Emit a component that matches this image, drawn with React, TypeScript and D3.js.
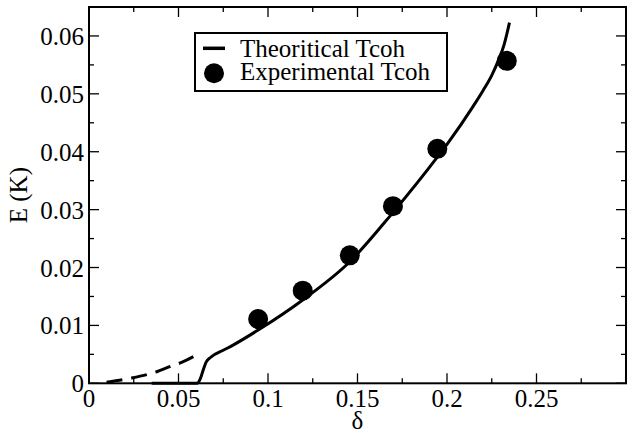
import React from "react";
import * as d3 from "d3";

const theoryX = [0.035, 0.0604, 0.0622, 0.0638, 0.0655, 0.068, 0.075, 0.0805, 0.0945, 0.1194, 0.1457, 0.1695, 0.1949, 0.2005, 0.2145, 0.22, 0.225, 0.229, 0.232, 0.2349];
const theoryY = [0, 0, 0.0008, 0.0023, 0.0037, 0.0045, 0.0057, 0.0066, 0.0092, 0.0144, 0.021, 0.0294, 0.0392, 0.0415, 0.0478, 0.0505, 0.0532, 0.056, 0.0586, 0.0623];
const dashedX = [0.0098, 0.0238, 0.0378, 0.0462, 0.0517, 0.0601];
const dashedY = [0.0002, 0.0009, 0.002, 0.003, 0.0036, 0.0049];
const expX = [0.0945, 0.1194, 0.1457, 0.1698, 0.1946, 0.2334];
const expY = [0.0111, 0.016, 0.0221, 0.0306, 0.0405, 0.0557];
const xTicks = [0, 0.05, 0.1, 0.15, 0.2, 0.25];
const xTickLabels = ["0", "0.05", "0.1", "0.15", "0.2", "0.25"];
const yTicks = [0, 0.01, 0.02, 0.03, 0.04, 0.05, 0.06];
const yTickLabels = ["0", "0.01", "0.02", "0.03", "0.04", "0.05", "0.06"];
const legendLabels = ["Theoritical Tcoh", "Experimental Tcoh"];
const xLabel = "δ";
const yLabel = "E (K)";

const W = 627, H = 432;
const L = 89, R = 626, T = 7, B = 383.3;
const FONT = "Liberation Serif";
const FS = 25;

export default function App() {
  const x = d3.scaleLinear().domain([0, 0.3]).range([L, R]);
  const y = d3.scaleLinear().domain([0, 0.065]).range([B, T]);
  const line = d3.line<[number, number]>().x(d => x(d[0])).y(d => y(d[1])).curve(d3.curveMonotoneX);
  const theory: [number, number][] = theoryX.map((v, i) => [v, theoryY[i]]);
  const dashed: [number, number][] = dashedX.map((v, i) => [v, dashedY[i]]);
  const xMinor = d3.range(0.025, 0.3, 0.05);
  const yMinor = d3.range(0.005, 0.065, 0.01);

  return (
    <svg width={W} height={H} style={{ position: "absolute", left: 0, top: 0, background: "#fff" }}>
      <rect x={0} y={0} width={W} height={H} fill="#fff" />
      <path d={line(dashed) || ""} fill="none" stroke="#000" strokeWidth={3} strokeDasharray="16,9" />
      <path d={line(theory) || ""} fill="none" stroke="#000" strokeWidth={3} />
      {expX.map((v, i) => (
        <circle key={i} cx={x(v)} cy={y(expY[i])} r={10} fill="#000" />
      ))}
      {xTicks.map((t, i) => (
        <g key={"xt" + i}>
          <line x1={x(t)} x2={x(t)} y1={B} y2={B - 10} stroke="#000" strokeWidth={1.3} />
          <line x1={x(t)} x2={x(t)} y1={T} y2={T + 10} stroke="#000" strokeWidth={1.3} />
          <text fontFamily={FONT} fontSize={FS} x={x(t)} y={407} textAnchor="middle">{xTickLabels[i]}</text>
        </g>
      ))}
      {xMinor.map((t, i) => (
        <g key={"xm" + i}>
          <line x1={x(t)} x2={x(t)} y1={B} y2={B - 5} stroke="#000" strokeWidth={1.3} />
          <line x1={x(t)} x2={x(t)} y1={T} y2={T + 5} stroke="#000" strokeWidth={1.3} />
        </g>
      ))}
      {yTicks.map((t, i) => (
        <g key={"yt" + i}>
          <line x1={L} x2={L + 10} y1={y(t)} y2={y(t)} stroke="#000" strokeWidth={1.3} />
          <line x1={R} x2={R - 10} y1={y(t)} y2={y(t)} stroke="#000" strokeWidth={1.3} />
          <text fontFamily={FONT} fontSize={FS} x={84} y={y(t) + 9} textAnchor="end">{yTickLabels[i]}</text>
        </g>
      ))}
      {yMinor.map((t, i) => (
        <g key={"ym" + i}>
          <line x1={L} x2={L + 5} y1={y(t)} y2={y(t)} stroke="#000" strokeWidth={1.3} />
          <line x1={R} x2={R - 5} y1={y(t)} y2={y(t)} stroke="#000" strokeWidth={1.3} />
        </g>
      ))}
      <rect x={L} y={T} width={R - L} height={B - T} fill="none" stroke="#000" strokeWidth={2} />
      <text fontFamily={FONT} fontSize={FS} x={(L + R) / 2} y={429} textAnchor="middle">{xLabel}</text>
      <text fontFamily={FONT} fontSize={FS} transform={`translate(27,${(T + B) / 2}) rotate(-90)`} textAnchor="middle">{yLabel}</text>
      <rect x={195} y={33} width={252} height={58} fill="#fff" stroke="#000" strokeWidth={2} />
      <line x1={203} x2={225} y1={48.3} y2={48.3} stroke="#000" strokeWidth={3.5} />
      <circle cx={214} cy={73.3} r={10} fill="#000" />
      <text fontFamily={FONT} fontSize={FS} x={240} y={56.7}>{legendLabels[0]}</text>
      <text fontFamily={FONT} fontSize={FS} x={240} y={80}>{legendLabels[1]}</text>
    </svg>
  );
}
